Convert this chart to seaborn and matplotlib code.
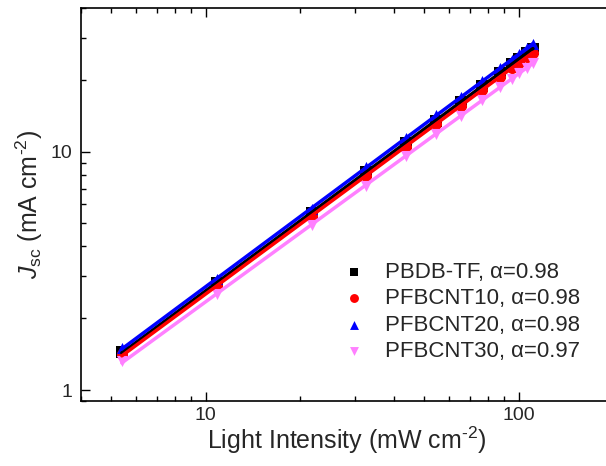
import numpy as np
import pandas as pd
import matplotlib
matplotlib.use("Agg")
import matplotlib.pyplot as plt
import seaborn as sns
from matplotlib.ticker import LogLocator, NullFormatter, FixedLocator, FixedFormatter

# ---- data ----
intensity = [5.4, 10.9, 21.8, 32.6, 43.5, 54.4, 65.3, 76.1, 87.0, 95.0, 100.0, 106.0, 111.0]
jsc_pbdb = [1.45, 2.80, 5.52, 8.18, 10.9, 13.5, 16.1, 18.8, 21.4, 23.2, 24.5, 25.9, 27.0]
jsc_cnt10 = [1.41, 2.72, 5.35, 7.90, 10.5, 13.0, 15.6, 18.1, 20.6, 22.4, 23.6, 25.0, 26.0]
jsc_cnt20 = [1.50, 2.92, 5.75, 8.62, 11.4, 14.2, 16.9, 19.7, 22.4, 24.3, 25.6, 27.1, 28.3]
jsc_cnt30 = [1.32, 2.52, 4.90, 7.20, 9.55, 11.9, 14.1, 16.4, 18.6, 20.2, 21.3, 22.5, 23.5]
labels = ["PBDB-TF, \u03b1=0.98", "PFBCNT10, \u03b1=0.98", "PFBCNT20, \u03b1=0.98", "PFBCNT30, \u03b1=0.97"]
colors = ["#000000", "#FF0000", "#0000FF", "#FF80FF"]
markers = ["s", "o", "^", "v"]
series = [jsc_pbdb, jsc_cnt10, jsc_cnt20, jsc_cnt30]

sns.set_style("ticks")
plt.rcParams["font.family"] = ["Liberation Sans", "DejaVu Sans"]
plt.rcParams["mathtext.fontset"] = "custom"
plt.rcParams["mathtext.rm"] = "Liberation Sans"
plt.rcParams["mathtext.it"] = "Liberation Sans:italic"

fig = plt.figure(figsize=(6.06, 4.66), dpi=100)
ax = fig.add_axes([81/606, 1-401/466, (613-81)/606, (401-8)/466])

x = np.array(intensity)
for ys, lab, c, m in zip(series, labels, colors, markers):
    df = pd.DataFrame({"x": x, "y": ys})
    sns.scatterplot(data=df, x="x", y="y", marker=m, color=c, s=64, linewidth=0,
                    label=lab, ax=ax, zorder=3)
for ys, c in zip(series, colors):
    k, b = np.polyfit(np.log10(x), np.log10(ys), 1)
    fit = pd.DataFrame({"x": x, "y": 10**(b + k*np.log10(x))})
    sns.lineplot(data=fit, x="x", y="y", color=c, lw=2.5, ax=ax, legend=False, zorder=4)

ax.set_xscale("log")
ax.set_yscale("log")
ax.set_xlim(4, 200)
ax.set_ylim(0.9, 40)
ax.xaxis.set_major_locator(FixedLocator([10, 100]))
ax.xaxis.set_major_formatter(FixedFormatter(["10", "100"]))
ax.yaxis.set_major_locator(FixedLocator([1, 10]))
ax.yaxis.set_major_formatter(FixedFormatter(["1", "10"]))
ax.xaxis.set_minor_locator(LogLocator(base=10, subs=np.arange(2, 10)))
ax.yaxis.set_minor_locator(LogLocator(base=10, subs=np.arange(2, 10)))
ax.xaxis.set_minor_formatter(NullFormatter())
ax.yaxis.set_minor_formatter(NullFormatter())
ax.tick_params(which="both", direction="in", top=True, right=False, width=1.0, color="black")
ax.tick_params(which="major", length=6.5, labelsize=14)
ax.tick_params(axis="x", which="major", pad=4.5)
ax.tick_params(axis="y", which="major", pad=6)
ax.tick_params(which="minor", length=3.6)
for s in ax.spines.values():
    s.set_linewidth(1.2)
    s.set_color("black")

ax.set_xlabel("Light Intensity (mW cm$^{\u2010 2}$)", fontsize=18, labelpad=0)
ax.set_ylabel("$J_{\\rm sc}$ (mA cm$^{\u2010 2}$)", fontsize=18, labelpad=4)

ax.legend(loc="upper left", bbox_to_anchor=(328/606, 1-253/466), bbox_transform=fig.transFigure,
          frameon=False, fontsize=16, handlelength=1.5, handletextpad=0.65,
          labelspacing=0.24, borderaxespad=0, borderpad=0.4, markerscale=0.8)

fig.savefig("out.png", dpi=100)
